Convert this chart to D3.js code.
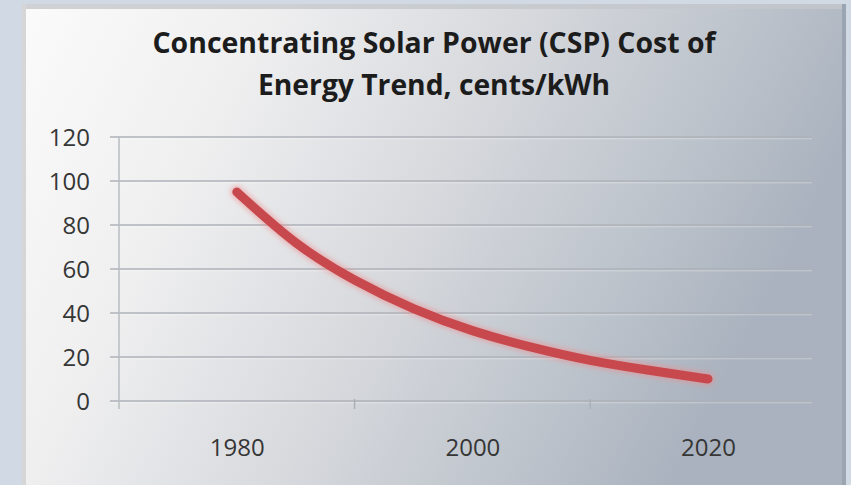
<!DOCTYPE html>
<html>
<head>
<meta charset="utf-8">
<script src="https://cdn.jsdelivr.net/npm/d3@7"></script>
<style>
  body { margin: 0; background: #d1dae4; }
  svg { display: block; }
</style>
</head>
<body>
<svg width="851" height="485"></svg>
<script>
// values
const years = [1980, 1985, 1990, 1995, 2000, 2005, 2010, 2015, 2020];
const cost = [95, 72, 55, 42, 32, 24.5, 18.5, 14, 10];
const yTicks = [0, 20, 40, 60, 80, 100, 120];
const xLabels = [1980, 2000, 2020];
const xMinorTicks = [1990, 2010];
const titleLines = ['Concentrating Solar Power (CSP) Cost of', 'Energy Trend, cents/kWh'];

const svg = d3.select('svg');

const defs = svg.append('defs');
const grad = defs.append('linearGradient')
    .attr('id', 'cardFill')
    .attr('x1', 0).attr('y1', 0)
    .attr('x2', 1).attr('y2', 0.3);
grad.selectAll('stop')
    .data([
        ['0%', '#fbfbfb'],
        ['28%', '#efeff0'],
        ['55%', '#d8dade'],
        ['80%', '#bfc5cd'],
        ['100%', '#a9b2be']
    ])
    .enter().append('stop')
    .attr('offset', d => d[0])
    .attr('stop-color', d => d[1]);

defs.append('filter')
    .attr('id', 'glow')
    .attr('x', '-10%').attr('y', '-10%')
    .attr('width', '120%').attr('height', '120%')
    .append('feGaussianBlur')
    .attr('stdDeviation', 2.5);

// card
svg.append('rect')
    .attr('x', 22).attr('y', 4)
    .attr('width', 824).attr('height', 481)
    .attr('fill', 'url(#cardFill)');
svg.append('rect')
    .attr('x', 22).attr('y', 4)
    .attr('width', 824).attr('height', 5)
    .attr('fill', '#c4c7cb')
    .attr('opacity', 0.8);
svg.append('rect')
    .attr('x', 22).attr('y', 4)
    .attr('width', 4).attr('height', 481)
    .attr('fill', '#d6d6d6');
svg.append('rect')
    .attr('x', 842).attr('y', 4)
    .attr('width', 4).attr('height', 481)
    .attr('fill', '#9ba4b1');

const x = d3.scaleLinear().domain([1970, 2029]).range([119, 814]);
const y = d3.scaleLinear().domain([0, 120]).range([401, 137]);

const g = svg.append('g');

// gridlines
g.selectAll('line.grid')
    .data(yTicks)
    .enter().append('line')
    .attr('class', 'grid')
    .attr('x1', 110).attr('x2', x.range()[1] - 2)
    .attr('y1', d => y(d)).attr('y2', d => y(d))
    .attr('stroke', '#aeb2b8')
    .attr('stroke-width', 1.6);
g.selectAll('line.gridhi')
    .data(yTicks)
    .enter().append('line')
    .attr('class', 'gridhi')
    .attr('x1', 110).attr('x2', x.range()[1] - 2)
    .attr('y1', d => y(d) + 1.8).attr('y2', d => y(d) + 1.8)
    .attr('stroke', '#ffffff')
    .attr('stroke-opacity', 0.35)
    .attr('stroke-width', 1);

// y axis line
g.append('line')
    .attr('x1', 119).attr('x2', 119)
    .attr('y1', y(120)).attr('y2', y(0) + 8)
    .attr('stroke', '#b9bcc1')
    .attr('stroke-width', 1.5);

// minor x ticks
g.selectAll('line.xtick')
    .data(xMinorTicks)
    .enter().append('line')
    .attr('class', 'xtick')
    .attr('x1', d => x(d)).attr('x2', d => x(d))
    .attr('y1', y(0) - 2).attr('y2', y(0) + 8)
    .attr('stroke', '#a9adb3')
    .attr('stroke-width', 1.3);

// y labels
const yAxis = d3.axisLeft(y).tickValues(yTicks).tickSize(0).tickPadding(0);
const ya = svg.append('g')
    .attr('transform', 'translate(90,0)')
    .call(yAxis);
ya.select('.domain').remove();
ya.selectAll('text')
    .attr('fill', '#363636')
    .style('font-family', '"Open Sans", "Liberation Sans", sans-serif')
    .style('font-size', '24px')
    .attr('dy', '0.34em');

// x labels
const xAxis = d3.axisBottom(x).tickValues(xLabels).tickSize(0).tickPadding(0).tickFormat(d3.format('d'));
const xa = svg.append('g')
    .attr('transform', 'translate(0,450)')
    .call(xAxis);
xa.select('.domain').remove();
xa.selectAll('text')
    .attr('fill', '#363636')
    .style('font-family', '"Open Sans", "Liberation Sans", sans-serif')
    .style('font-size', '24px')
    .attr('dy', '0.25em');

// cost line
const line = d3.line()
    .x((d, i) => x(years[i]))
    .y(d => y(d))
    .curve(d3.curveNatural);

g.append('path')
    .datum(cost)
    .attr('d', line)
    .attr('fill', 'none')
    .attr('stroke', '#f08a8c')
    .attr('stroke-opacity', 0.55)
    .attr('stroke-width', 13)
    .attr('stroke-linecap', 'round')
    .attr('filter', 'url(#glow)');
g.append('path')
    .datum(cost)
    .attr('d', line)
    .attr('fill', 'none')
    .attr('stroke', '#c8494d')
    .attr('stroke-width', 9)
    .attr('stroke-linecap', 'round');

// title
const title = svg.append('g')
    .style('font-family', '"Open Sans", "Liberation Sans", sans-serif')
    .style('font-weight', 'bold')
    .style('font-size', '28px')
    .attr('fill', '#1c1c1c');
const titleWidths = [563, 352];
title.selectAll('text')
    .data(titleLines)
    .enter().append('text')
    .attr('x', 434)
    .attr('y', (d, i) => 53 + i * 42)
    .attr('text-anchor', 'middle')
    .attr('textLength', (d, i) => titleWidths[i])
    .attr('lengthAdjust', 'spacingAndGlyphs')
    .text(d => d);
</script>
</body>
</html>
